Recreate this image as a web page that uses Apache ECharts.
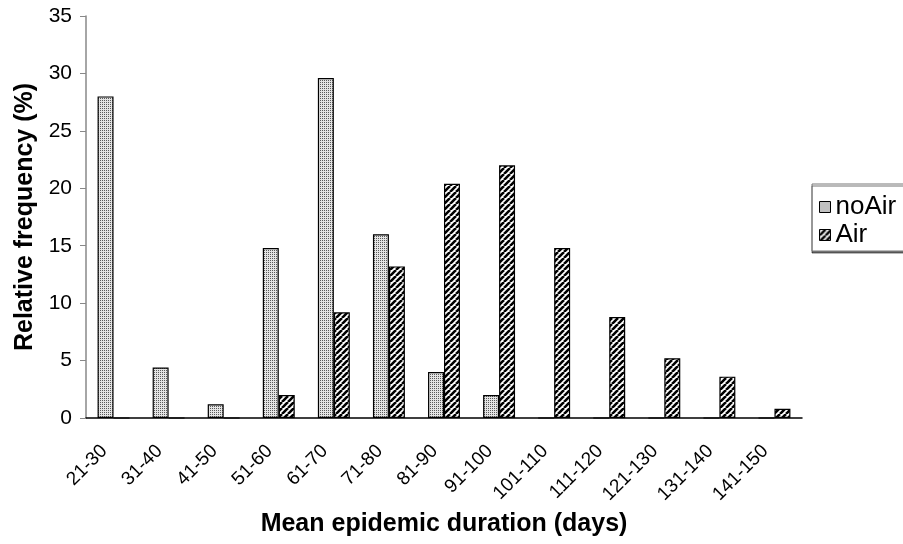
<!DOCTYPE html>
<html>
<head>
<meta charset="utf-8">
<script src="https://cdn.jsdelivr.net/npm/echarts@6/dist/echarts.min.js"></script>
<style>
  html, body { margin: 0; padding: 0; background: #fff; }
  #chart { width: 903px; height: 544px; }
</style>
</head>
<body>
<div id="chart"></div>
<script>
const categories = [
  "21-30", "31-40", "41-50", "51-60", "61-70", "71-80", "81-90",
  "91-100", "101-110", "111-120", "121-130", "131-140", "141-150",
];
const noAir = [28, 4.4, 1.2, 14.8, 29.6, 16, 4, 2, 0, 0, 0, 0, 0];
const air = [0, 0, 0, 2, 9.2, 13.2, 20.4, 22, 14.8, 8.8, 5.2, 3.6, 0.8];
const yTicks = [0, 5, 10, 15, 20, 25, 30, 35];

// small canvas tiles used as fill patterns
const dots = () => {
  const c = document.createElement("canvas");
  c.width = 2;
  c.height = 2;
  const ctx = c.getContext("2d");
  ctx.fillStyle = "#e4e4e4";
  ctx.fillRect(0, 0, 2, 2);
  ctx.fillStyle = "#5a5a5a";
  ctx.fillRect(0, 0, 1, 1);
  return c;
};
const hatch = () => {
  const s = 6;
  const c = document.createElement("canvas");
  c.width = s;
  c.height = s;
  const ctx = c.getContext("2d");
  ctx.fillStyle = "#fff";
  ctx.fillRect(0, 0, s, s);
  ctx.strokeStyle = "#000";
  ctx.lineWidth = 2.6;
  ctx.beginPath();
  for (let k = -1; k <= 1; k++) {
    ctx.moveTo(k * s, s);
    ctx.lineTo(k * s + s, 0);
  }
  ctx.stroke();
  return c;
};

const font = "Liberation Sans, Arial, sans-serif";
const chart = echarts.init(document.getElementById("chart"));
chart.setOption({
  animation: false,
  grid: { left: 86, right: 101, top: 16, bottom: 126 },
  legend: {
    orient: "vertical",
    left: 812,
    top: 184,
    padding: [10, 30, 3, 7],
    itemGap: 2,
    itemWidth: 11,
    itemHeight: 11,
    icon: "rect",
    itemStyle: { borderColor: "#000", borderWidth: 1 },
    borderColor: "#777",
    borderWidth: 1,
    backgroundColor: "#fff",
    shadowColor: "rgba(0,0,0,0.55)",
    shadowOffsetY: 2,
    shadowBlur: 0,
    textStyle: { fontFamily: font, fontSize: 26, lineHeight: 26, color: "#000" },
    data: ["noAir", "Air"],
  },
  xAxis: {
    type: "category",
    data: categories,
    axisLine: { lineStyle: { color: "#000", width: 1.5 } },
    axisTick: { show: false },
    axisLabel: {
      interval: 0,
      rotate: 45,
      margin: 21,
      padding: [0, 13, 0, 0],
      fontFamily: font,
      fontSize: 19,
      color: "#000",
    },
    name: "Mean epidemic duration (days)",
    nameLocation: "middle",
    nameGap: 93,
    nameTextStyle: { fontFamily: font, fontSize: 25, fontWeight: "bold", color: "#000" },
  },
  yAxis: {
    type: "value",
    min: 0,
    max: yTicks[yTicks.length - 1],
    interval: 5,
    splitLine: { show: false },
    axisLine: { show: true, lineStyle: { color: "#888", width: 1.5 } },
    axisTick: { show: true, length: 6, lineStyle: { color: "#888" } },
    axisLabel: { fontFamily: font, fontSize: 21, color: "#000", margin: 14 },
    name: "Relative frequency (%)",
    nameLocation: "middle",
    nameGap: 46,
    nameTextStyle: { fontFamily: font, fontSize: 25, fontWeight: "bold", color: "#000" },
  },
  series: [
    {
      name: "noAir",
      type: "bar",
      data: noAir,
      barGap: "0%",
      barCategoryGap: "42%",
      itemStyle: {
        color: { image: dots(), repeat: "repeat" },
        borderColor: "#000",
        borderWidth: 1.2,
      },
    },
    {
      name: "Air",
      type: "bar",
      data: air,
      barGap: "0%",
      barCategoryGap: "42%",
      itemStyle: {
        color: { image: hatch(), repeat: "repeat" },
        borderColor: "#000",
        borderWidth: 1.2,
      },
    },
  ],
});
</script>
</body>
</html>
